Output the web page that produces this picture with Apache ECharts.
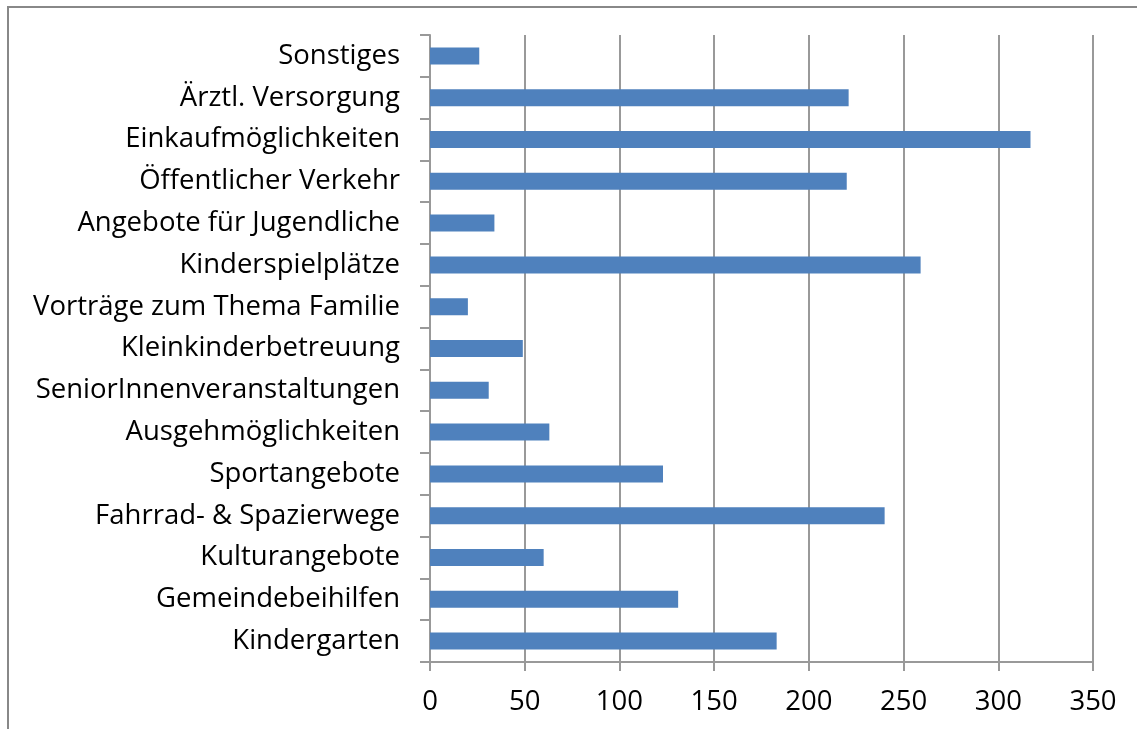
<!DOCTYPE html>
<html>
<head>
<meta charset="utf-8">
<script src="https://cdn.jsdelivr.net/npm/echarts@6/dist/echarts.min.js"></script>
<style>
    html, body {margin: 0; padding: 0; background: #fff;}
    #chart {width: 1137px; height: 729px;}
</style>
</head>
<body>
<div id="chart"></div>
<script>
    // categories from bottom to top
    var categories = ['Kindergarten', 'Gemeindebeihilfen', 'Kulturangebote', 'Fahrrad- & Spazierwege',
        'Sportangebote', 'Ausgehmöglichkeiten', 'SeniorInnenveranstaltungen', 'Kleinkinderbetreuung',
        'Vorträge zum Thema Familie', 'Kinderspielplätze', 'Angebote für Jugendliche', 'Öffentlicher Verkehr',
        'Einkaufmöglichkeiten', 'Ärztl. Versorgung', 'Sonstiges'];
    var values = [183, 131, 60, 240, 123, 63, 31, 49, 20, 259, 34, 220, 317, 221, 26];
    var xMin = 0, xMax = 350, xStep = 50;

    var myChart = echarts.init(document.getElementById('chart'));
    myChart.setOption({
        animation: false,
        textStyle: {fontFamily: 'Open Sans'},
        graphic: [{
            type: 'rect',
            shape: {x: 8, y: 7, width: 1200, height: 800},
            style: {fill: 'none', stroke: '#888', lineWidth: 2}
        }],
        grid: {left: 430, right: 44, top: 35, bottom: 67},
        xAxis: {
            type: 'value',
            min: xMin, max: xMax, interval: xStep,
            axisLine: {show: true, lineStyle: {color: '#999', width: 2}},
            axisTick: {show: true, length: 9, lineStyle: {color: '#999', width: 2}},
            splitLine: {lineStyle: {color: '#999', width: 2}},
            axisLabel: {color: '#000', fontSize: 27.5, margin: 26}
        },
        yAxis: {
            type: 'category',
            data: categories,
            axisLine: {show: true, lineStyle: {color: '#999', width: 2}},
            axisTick: {show: true, length: 10, lineStyle: {color: '#999', width: 2}},
            axisLabel: {color: '#000', fontSize: 27.5, margin: 30}
        },
        series: [{
            type: 'bar',
            data: values,
            barWidth: 17,
            itemStyle: {color: '#4F81BD'}
        }]
    });
</script>
</body>
</html>
